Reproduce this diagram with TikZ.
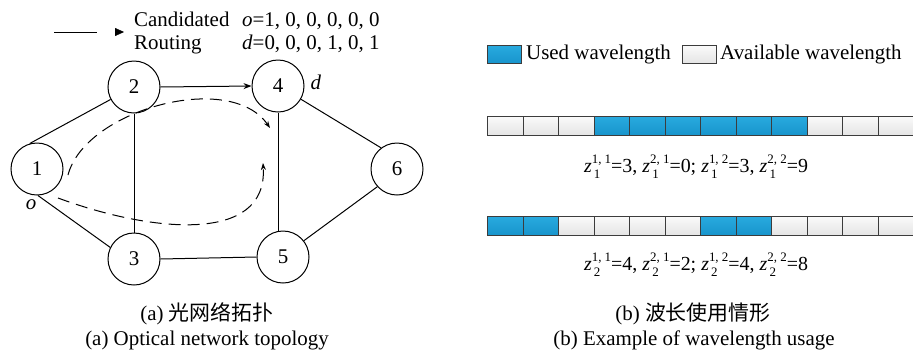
\documentclass[tikz,border=0pt]{standalone}
\usepackage{fontspec}
\setmainfont{Liberation Serif}
\newfontfamily\cjk{Noto Sans CJK SC}
\usetikzlibrary{arrows.meta}
\definecolor{bluetop}{RGB}{40,170,222}
\definecolor{bluebot}{RGB}{24,148,204}
\definecolor{graytop}{RGB}{250,250,250}
\definecolor{graybot}{RGB}{228,228,228}
\definecolor{cellborder}{RGB}{60,60,60}
\newcommand\scripts{\fontsize{13}{13}\selectfont}
\newcommand\zsym[2]{\textit{z}\ooalign{\raisebox{0.42em}{\scripts #1}\cr\raisebox{-0.32em}{\scripts\,#2}\hfil\cr}}
\begin{document}
\begin{tikzpicture}[x=1bp,y=-1bp,
  every node/.style={font=\fontsize{21}{23}\selectfont, inner sep=0pt},
  netnode/.style={draw, circle, minimum size=52bp, line width=1bp},
  edge/.style={line width=1bp},
  route/.style={line width=1bp, dash pattern=on 12bp off 7bp, -{Stealth[length=7bp,width=5bp]}},
  cell/.style={draw=cellborder, line width=1bp, minimum width=35.5bp, minimum height=19bp, anchor=north west, top color=graytop, bottom color=graybot},
  usedcell/.style={cell, top color=bluetop, bottom color=bluebot},
  formula/.style={anchor=base, font=\fontsize{20}{22}\selectfont},
  caption/.style={anchor=base, font=\fontsize{21}{23}\selectfont}
]
\useasboundingbox (0,0) rectangle (913,350);

% legend (left)
\coordinate (la) at (54,32);
\coordinate (lb) at (97,32);
\draw[edge] (la) -- (lb);
\coordinate (ta) at (115,32);
\coordinate (tb) at (124,32);
\draw[-{Stealth[length=9bp,width=8bp,inset=0bp]}] (ta) -- (tb);
\node[anchor=base west] (cand) at (134,26) {Candidated};
\node[anchor=base west] (rout) at (134,49) {Routing};
\node[anchor=base west] (ovec) at (242,26) {\textit{o}=1, 0, 0, 0, 0, 0};
\node[anchor=base west] (dvec) at (242,49) {\textit{d}=0, 0, 0, 1, 0, 1};

% network
\node[netnode] (n1) at (37,169) {1};
\node[netnode] (n2) at (134,87) {2};
\node[netnode] (n3) at (134,259) {3};
\node[netnode] (n4) at (278,86) {4};
\node[netnode] (n5) at (283,257) {5};
\node[netnode] (n6) at (397,169) {6};
\node (lo) at (31,205) {\textit{o}};
\node (ld) at (316,82) {\textit{d}};

\draw[edge] (n1.106) -- (n2.208);
\draw[edge] (n1.272) -- (n3.154);
\draw[edge] (n2.south) -- (n3.north);
\draw[edge, -{Stealth[length=8bp,width=6bp]}] (n2.east) -- (n4.west);
\draw[edge] (n4.south) -- (n4.south |- n5.north);
\draw[edge] (n3.east) -- (n5.west);
\draw[edge] (n4.330) -- (n6.127);
\draw[edge] (n5.38) -- (n6.222);

\coordinate (ra) at (68,175);
\coordinate (rb) at (270,128);
\draw[route] (ra) .. controls (85,110) and (230,70) .. (rb);
\coordinate (rc) at (58,198);
\coordinate (rd) at (263,163);
\draw[route] (rc) .. controls (150,232) and (268,245) .. (rd);

% legend (right)
\node[usedcell, minimum width=34bp, minimum height=18bp] (kused) at (487,45) {};
\node[anchor=base west] (tused) at (526,59) {Used wavelength};
\node[cell, minimum width=34bp, minimum height=18bp] (kfree) at (682,45) {};
\node[anchor=base west] (tfree) at (720,59) {Available wavelength};

% bar 1
\node[cell] (a0) at (487,116) {};
\node[cell] (a1) at (522.5,116) {};
\node[cell] (a2) at (558,116) {};
\node[usedcell] (a3) at (593.5,116) {};
\node[usedcell] (a4) at (629,116) {};
\node[usedcell] (a5) at (664.5,116) {};
\node[usedcell] (a6) at (700,116) {};
\node[usedcell] (a7) at (735.5,116) {};
\node[usedcell] (a8) at (771,116) {};
\node[cell] (a9) at (806.5,116) {};
\node[cell] (a10) at (842,116) {};
\node[cell] (a11) at (877.5,116) {};
\node[formula] (f1) at (696,172) {\zsym{1, 1}{1}=3, \zsym{2, 1}{1}=0; \zsym{1, 2}{1}=3, \zsym{2, 2}{1}=9};

% bar 2
\node[usedcell] (b0) at (487,216) {};
\node[usedcell] (b1) at (522.5,216) {};
\node[cell] (b2) at (558,216) {};
\node[cell] (b3) at (593.5,216) {};
\node[cell] (b4) at (629,216) {};
\node[cell] (b5) at (664.5,216) {};
\node[usedcell] (b6) at (700,216) {};
\node[usedcell] (b7) at (735.5,216) {};
\node[cell] (b8) at (771,216) {};
\node[cell] (b9) at (806.5,216) {};
\node[cell] (b10) at (842,216) {};
\node[cell] (b11) at (877.5,216) {};
\node[formula] (f2) at (696,270) {\zsym{1, 1}{2}=4, \zsym{2, 1}{2}=2; \zsym{1, 2}{2}=4, \zsym{2, 2}{2}=8};

% captions
\node[caption] (capa1) at (207,320) {(a) {\cjk 光网络拓扑}};
\node[caption] (capa2) at (207,345) {(a) Optical network topology};
\node[caption] (capb1) at (693,320) {(b) {\cjk 波长使用情形}};
\node[caption] (capb2) at (694,345) {(b) Example of wavelength usage};
\end{tikzpicture}
\end{document}
